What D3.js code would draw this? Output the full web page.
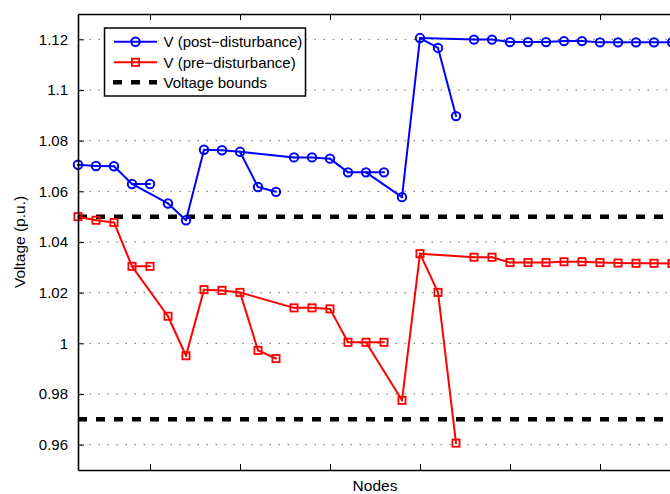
<!DOCTYPE html>
<html>
<head>
<meta charset="utf-8">
<script src="https://cdn.jsdelivr.net/npm/d3@7"></script>
<style>
  html, body { margin: 0; padding: 0; background: #fff; }
  svg { display: block; font-family: "Liberation Sans", Arial, Helvetica, sans-serif; }
</style>
</head>
<body>
<svg id="chart" width="670" height="494"></svg>
<script>
// ---- data ----
const nodes = [1,2,3,4,5,6,7,8,9,10,11,12,13,14,15,16,17,18,19,20,21,22,23,24,25,26,27,28,29,30,31,32,33,34];
// parent node of each node (0 = root) – lines connect each node to its parent
const parent = [0,1,2,3,4,4,6,7,8,9,10,11,10,13,14,15,16,17,17,19,20,21,20,23,24,25,26,27,28,29,30,31,32,33];
const vPost = [1.0705,1.0700,1.0699,1.0629,1.0629,1.0552,1.0486,1.0764,1.0762,1.0756,1.0617,1.0598,
               1.0734,1.0734,1.0729,1.0675,1.0675,1.0675,1.0577,1.1205,1.1166,1.0897,1.1199,1.1199,
               1.1189,1.1189,1.1189,1.1193,1.1193,1.1188,1.1188,1.1188,1.1188,1.1188];
const vPre  = [1.0500,1.0486,1.0477,1.0304,1.0304,1.0107,0.9951,1.0212,1.0209,1.0201,0.9972,0.9940,
               1.0140,1.0140,1.0136,1.0004,1.0004,1.0004,0.9775,1.0354,1.0201,0.9606,1.0340,1.0340,
               1.0319,1.0319,1.0319,1.0322,1.0322,1.0319,1.0317,1.0316,1.0316,1.0315];
const bounds = [1.05, 0.97];
const yTicks = [0.96,0.98,1.00,1.02,1.04,1.06,1.08,1.10,1.12];
const yTickLabels = ["0.96","0.98","1","1.02","1.04","1.06","1.08","1.1","1.12"];
const xTicks = [5,10,15,20,25,30];
const legendLabels = ["V (post\u2212disturbance)","V (pre\u2212disturbance)","Voltage bounds"];
const xLabel = "Nodes";
const yLabel = "Voltage (p.u.)";

// ---- layout ----
const L = 78, T = 14, B = 470, R = 672;
const svg = d3.select("#chart");
const x = d3.scaleLinear().domain([1, 34]).range([L, R]);
const y = d3.scaleLinear().domain([0.95, 1.13]).range([B, T]);

// grid (horizontal dotted)
svg.append("g").selectAll("line").data(yTicks).join("line")
  .attr("x1", L).attr("x2", R)
  .attr("y1", d => y(d)).attr("y2", d => y(d))
  .attr("stroke", "#222").attr("stroke-width", 1)
  .attr("stroke-dasharray", "1,8").attr("stroke-dashoffset", 6.3);

// bounds
svg.append("g").selectAll("line").data(bounds).join("line")
  .attr("x1", L).attr("x2", R)
  .attr("y1", d => y(d)).attr("y2", d => y(d))
  .attr("stroke", "#000").attr("stroke-width", 4.5)
  .attr("stroke-dasharray", "9,9");

// series
function drawSeries(vals, color, marker) {
  const g = svg.append("g");
  const edges = nodes.map((n, i) => ({n, p: parent[i]})).filter(e => e.p > 0);
  g.selectAll("line").data(edges).join("line")
    .attr("x1", e => x(e.p)).attr("y1", e => y(vals[e.p - 1]))
    .attr("x2", e => x(e.n)).attr("y2", e => y(vals[e.n - 1]))
    .attr("stroke", color).attr("stroke-width", 2).attr("stroke-linecap", "round");
  const pts = nodes.map((n, i) => ({n, v: vals[i]}));
  if (marker === "circle") {
    g.selectAll("circle").data(pts).join("circle")
      .attr("cx", d => x(d.n)).attr("cy", d => y(d.v)).attr("r", 4.2)
      .attr("fill", "none").attr("stroke", color).attr("stroke-width", 2);
  } else {
    g.selectAll("rect").data(pts).join("rect")
      .attr("x", d => x(d.n) - 3.6).attr("y", d => y(d.v) - 3.6)
      .attr("width", 7.2).attr("height", 7.2)
      .attr("fill", "none").attr("stroke", color).attr("stroke-width", 1.8);
  }
}
drawSeries(vPost, "#0000ff", "circle");
drawSeries(vPre, "#ff0000", "square");

// axes
const yAxis = svg.append("g").attr("transform", `translate(${L},0)`)
  .call(d3.axisLeft(y).tickValues(yTicks).tickFormat((d, i) => yTickLabels[i])
        .tickSizeInner(-6).tickSizeOuter(0).tickPadding(10));
const xAxisB = svg.append("g").attr("transform", `translate(0,${B})`)
  .call(d3.axisBottom(x).tickValues(xTicks).tickFormat("").tickSizeInner(-6).tickSizeOuter(0));
const xAxisT = svg.append("g").attr("transform", `translate(0,${T})`)
  .call(d3.axisTop(x).tickValues(xTicks).tickFormat("").tickSizeInner(-6).tickSizeOuter(0));
[yAxis, xAxisB, xAxisT].forEach(a => {
  a.select(".domain").attr("stroke", "#000").attr("stroke-width", 1.6);
  a.selectAll(".tick line").attr("stroke", "#000").attr("stroke-width", 1);
  a.selectAll("text").attr("font-size", 15).attr("fill", "#000")
    .attr("font-family", "'Liberation Sans', Arial, sans-serif");
});

// axis labels
svg.append("text").attr("x", (L + R) / 2).attr("y", 491)
  .attr("text-anchor", "middle").attr("font-size", 15.5).text(xLabel);
svg.append("text").attr("transform", `translate(25,${(T + B) / 2}) rotate(-90)`)
  .attr("text-anchor", "middle").attr("font-size", 15.5).text(yLabel);

// legend
const lg = svg.append("g");
lg.append("rect").attr("x", 104.5).attr("y", 28).attr("width", 201).attr("height", 68)
  .attr("fill", "#fff").attr("stroke", "#000").attr("stroke-width", 1.5);
const rows = [41.7, 62.3, 82.3];
const items = [
  {label: legendLabels[0], color: "#0000ff", marker: "circle"},
  {label: legendLabels[1], color: "#ff0000", marker: "square"},
  {label: legendLabels[2], color: "#000", marker: "dash"}
];
items.forEach((it, i) => {
  const yy = rows[i];
  if (it.marker === "dash") {
    lg.append("line").attr("x1", 113).attr("x2", 157).attr("y1", yy).attr("y2", yy)
      .attr("stroke", "#000").attr("stroke-width", 4.5).attr("stroke-dasharray", "9,9");
  } else {
    lg.append("line").attr("x1", 114).attr("x2", 157).attr("y1", yy).attr("y2", yy)
      .attr("stroke", it.color).attr("stroke-width", 2);
    if (it.marker === "circle") {
      lg.append("circle").attr("cx", 135.5).attr("cy", yy).attr("r", 4.2)
        .attr("fill", "none").attr("stroke", it.color).attr("stroke-width", 2);
    } else {
      lg.append("rect").attr("x", 135.5 - 3.6).attr("y", yy - 3.6).attr("width", 7.2).attr("height", 7.2)
        .attr("fill", "none").attr("stroke", it.color).attr("stroke-width", 1.8);
    }
  }
  lg.append("text").attr("x", 163.5).attr("y", yy).attr("dy", "0.35em")
    .attr("font-size", 15).text(it.label);
});
</script>
</body>
</html>
